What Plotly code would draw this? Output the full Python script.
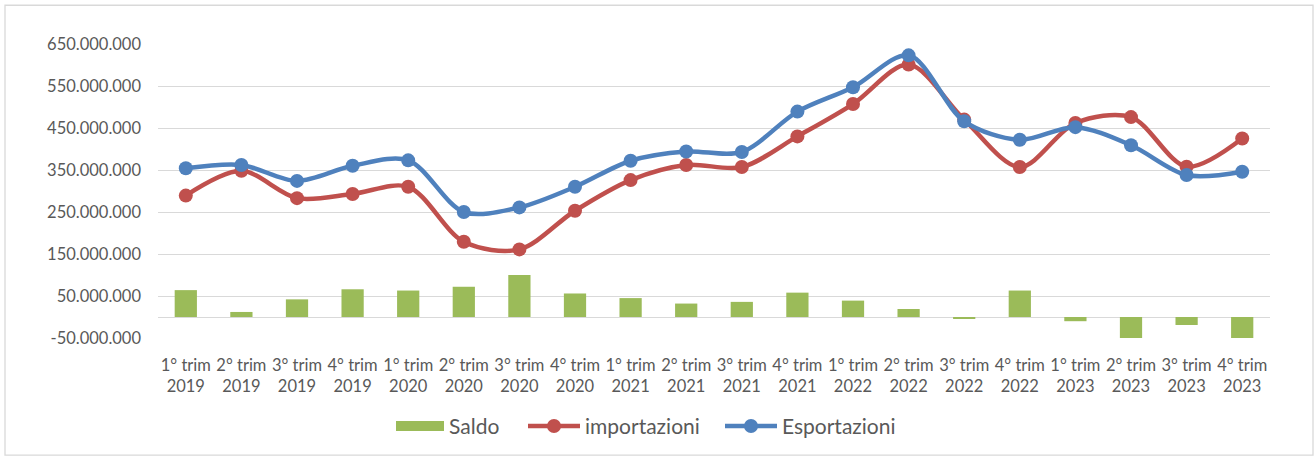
import plotly.graph_objects as go

categories = [
    "1° trim<br>2019", "2° trim<br>2019", "3° trim<br>2019", "4° trim<br>2019",
    "1° trim<br>2020", "2° trim<br>2020", "3° trim<br>2020", "4° trim<br>2020",
    "1° trim<br>2021", "2° trim<br>2021", "3° trim<br>2021", "4° trim<br>2021",
    "1° trim<br>2022", "2° trim<br>2022", "3° trim<br>2022", "4° trim<br>2022",
    "1° trim<br>2023", "2° trim<br>2023", "3° trim<br>2023", "4° trim<br>2023",
]

esportazioni = [354e6, 362e6, 324e6, 360e6, 373e6, 250e6, 261e6, 310e6, 372e6, 394e6,
                393e6, 489e6, 547e6, 623e6, 466e6, 422e6, 452e6, 409e6, 338e6, 346e6]
importazioni = [289e6, 348e6, 283e6, 293e6, 310e6, 179e6, 161e6, 253e6, 326e6, 362e6,
                357e6, 430e6, 507e6, 601e6, 470e6, 357e6, 462e6, 476e6, 358e6, 425e6]
saldo = [64e6, 12e6, 42e6, 66e6, 63e6, 72e6, 100e6, 56e6, 45e6, 32e6,
         36e6, 58e6, 39e6, 19e6, -4e6, 63e6, -10e6, -67e6, -19e6, -79e6]

tick_vals = [-50e6, 50e6, 150e6, 250e6, 350e6, 450e6, 550e6, 650e6]
tick_text = ["-50.000.000", "50.000.000", "150.000.000", "250.000.000",
             "350.000.000", "450.000.000", "550.000.000", "650.000.000"]

GREEN = "#9BBB59"
RED = "#C0504D"
BLUE = "#4F81BD"
TEXT = "#595959"
GRID = "#D9D9D9"
FONT = "Lato"

fig = go.Figure()
fig.add_trace(go.Bar(x=categories, y=saldo, name="Saldo", marker=dict(color=GREEN, line=dict(width=0)),
                     showlegend=False, legendgroup="saldo"))
# legend proxy for the wide Saldo swatch
fig.add_trace(go.Scatter(x=[None], y=[None], mode="lines", name="Saldo", legendgroup="saldo",
                         line=dict(color=GREEN, width=14), legend="legend"))
fig.add_trace(go.Scatter(x=categories, y=importazioni, name="importazioni", mode="lines+markers",
                         line=dict(color=RED, width=4.5, shape="spline", smoothing=0.9),
                         marker=dict(color=RED, size=14), legend="legend2"))
fig.add_trace(go.Scatter(x=categories, y=esportazioni, name="Esportazioni", mode="lines+markers",
                         line=dict(color=BLUE, width=4.5, shape="spline", smoothing=0.9),
                         marker=dict(color=BLUE, size=14), legend="legend3"))

L, R, T, B = 158, 45, 44, 119
W, H = 1315, 459
pw, ph = W - L - R, H - T - B


def px_x(x):
    return (x - L) / pw


def px_y(y):
    return (H - B - y) / ph


def leg(x, iw):
    return dict(orientation="h", x=px_x(x), xanchor="left", y=px_y(429), yanchor="middle",
                font=dict(size=21, color=TEXT, family=FONT), itemwidth=iw,
                bgcolor="rgba(0,0,0,0)", borderwidth=0)


fig.update_layout(
    width=W, height=H,
    margin=dict(l=L, r=R, t=T, b=B, pad=0),
    paper_bgcolor="white", plot_bgcolor="white",
    font=dict(family=FONT, color=TEXT, size=16.5),
    bargap=0.6,
    showlegend=True,
    legend=leg(391, 48),
    legend2=leg(523, 52),
    legend3=leg(720, 52),
    xaxis=dict(showgrid=False, showline=False, ticks="", tickangle=0,
               tickfont=dict(size=16.5, color=TEXT, family=FONT), ticklabelstandoff=15,
               range=[-0.5, 19.5]),
    yaxis=dict(range=[-50e6, 650e6], tickvals=tick_vals, ticktext=tick_text,
               showgrid=True, gridcolor=GRID, gridwidth=1.3,
               zeroline=True, zerolinecolor=GRID, zerolinewidth=1.3,
               showline=False, ticks="", tickfont=dict(size=16.5, color=TEXT, family=FONT),
               ticklabelstandoff=16),
    shapes=[dict(type="rect", xref="paper", yref="paper",
                 x0=px_x(5), x1=px_x(1313),
                 y0=px_y(458), y1=px_y(5),
                 line=dict(color=GRID, width=1.3), fillcolor="rgba(0,0,0,0)", layer="below")],
)

fig.write_html("out.html", config={"displayModeBar": False},
               post_script="document.body.style.margin='0';document.body.style.overflow='hidden';")
